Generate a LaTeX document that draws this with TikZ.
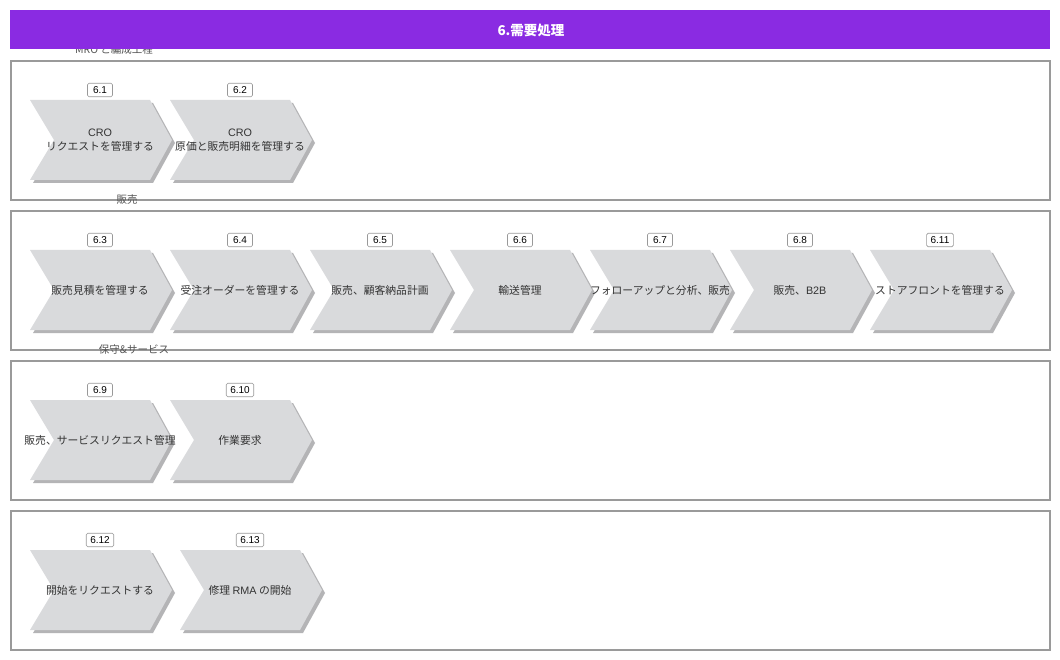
\documentclass[tikz,border=0pt]{standalone}
\usepackage{fontspec}
\setmainfont{Noto Sans CJK JP}
\newfontfamily\latinsf{Liberation Sans}
\definecolor{hdr}{HTML}{8A2BE2}
\definecolor{chevfill}{HTML}{D9DADC}
\definecolor{chevshadow}{HTML}{B4B4B6}
\definecolor{lanegray}{HTML}{9A9A9A}
\definecolor{txtgray}{HTML}{333333}
\definecolor{lblgray}{HTML}{555555}
\tikzset{
  lanebox/.style={draw=lanegray, line width=1.6pt},
  lanelabel/.style={text=lblgray, font=\fontsize{10.5}{12}\selectfont, inner sep=0pt},
  chevbody/.style={fill=chevfill, draw=none},
  chevshade/.style={fill=chevshadow, draw=none},
  chevtext/.style={text=txtgray, font=\fontsize{10.8}{14}\selectfont, align=center, inner sep=0pt},
  numbox/.style={draw=gray!80, fill=white, rounded corners=1.5pt, line width=0.6pt,
    font=\latinsf\fontsize{10}{11}\selectfont, inner xsep=4pt, inner ysep=1.5pt, minimum height=13.5pt, minimum width=25pt},
  hdrtext/.style={text=white, font=\bfseries\fontsize{13.5}{15}\selectfont}
}
\newcommand{\mychev}[5]{%
  \fill[chevshade] (#1+3,#2+3) -- (#1+123,#2+3) -- (#1+145,#2+43) -- (#1+123,#2+83) -- (#1+3,#2+83) -- (#1+27,#2+43) -- cycle;
  \fill[chevbody] (#1,#2) -- (#1+120,#2) -- (#1+142,#2+40) -- (#1+120,#2+80) -- (#1,#2+80) -- (#1+24,#2+40) -- cycle;
  \node[chevtext] (c#3) at (#1+70,#2+40) {#4};
  \node[numbox] (n#3) at (#1+70,#2-10) {#5};
}
\begin{document}
\begin{tikzpicture}[x=1pt,y=-1pt]
\useasboundingbox (0,0) rectangle (1060,660);
\fill[white] (0,0) rectangle (1060,660);
% lanes
\draw[lanebox] (11,61) rectangle (1050,200);
\draw[lanebox] (11,211) rectangle (1050,350);
\draw[lanebox] (11,361) rectangle (1050,500);
\draw[lanebox] (11,511) rectangle (1050,650);
\node[lanelabel] (l1) at (114,50) {MRO と編成工程};
\node[lanelabel] (l2) at (127,200) {販売};
\node[lanelabel] (l3) at (134,350) {保守\&サービス};
% header
\fill[hdr] (10,10) rectangle (1050,49);
\node[hdrtext] (hdr) at (531,30) {6.需要処理};
% row 1
\mychev{30}{100}{61}{{\latinsf CRO}\\リクエストを管理する}{6.1}
\mychev{170}{100}{62}{{\latinsf CRO}\\原価と販売明細を管理する}{6.2}
% row 2
\mychev{30}{250}{63}{販売見積を管理する}{6.3}
\mychev{170}{250}{64}{受注オーダーを管理する}{6.4}
\mychev{310}{250}{65}{販売、顧客納品計画}{6.5}
\mychev{450}{250}{66}{輸送管理}{6.6}
\mychev{590}{250}{67}{フォローアップと分析、販売}{6.7}
\mychev{730}{250}{68}{販売、{\latinsf B2B}}{6.8}
\mychev{870}{250}{611}{ストアフロントを管理する}{6.11}
% row 3
\mychev{30}{400}{69}{販売、サービスリクエスト管理}{6.9}
\mychev{170}{400}{610}{作業要求}{6.10}
% row 4
\mychev{30}{550}{612}{開始をリクエストする}{6.12}
\mychev{180}{550}{613}{修理 {\latinsf RMA} の開始}{6.13}
\end{tikzpicture}
\end{document}
